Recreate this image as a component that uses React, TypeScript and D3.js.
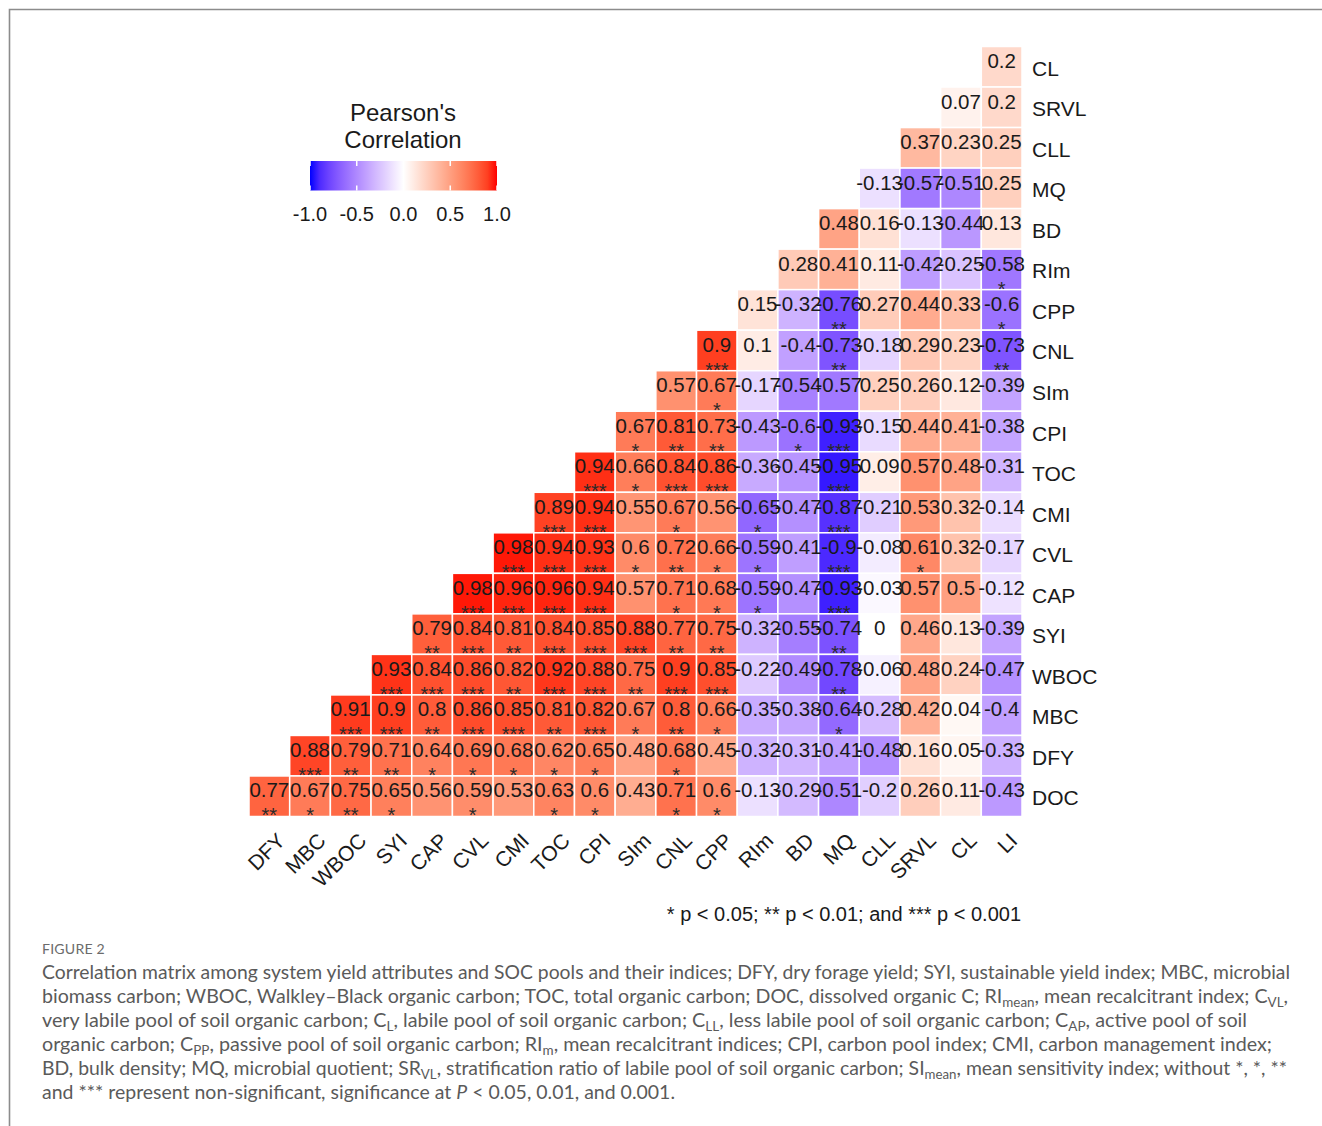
import React from 'react';
import * as d3 from 'd3';

// column order (x axis) and row order (top to bottom)
const columns = ['DFY', 'MBC', 'WBOC', 'SYI', 'CAP', 'CVL', 'CMI', 'TOC', 'CPI', 'SIm', 'CNL', 'CPP', 'RIm', 'BD', 'MQ', 'CLL', 'SRVL', 'CL', 'LI'];
const rows = ['CL', 'SRVL', 'CLL', 'MQ', 'BD', 'RIm', 'CPP', 'CNL', 'SIm', 'CPI', 'TOC', 'CMI', 'CVL', 'CAP', 'SYI', 'WBOC', 'MBC', 'DFY', 'DOC'];

// each row holds the values for its rightmost columns (lower triangle)
const rowValues = [
  [0.2],
  [0.07, 0.2],
  [0.37, 0.23, 0.25],
  [-0.13, -0.57, -0.51, 0.25],
  [0.48, 0.16, -0.13, -0.44, 0.13],
  [0.28, 0.41, 0.11, -0.42, -0.25, -0.58],
  [0.15, -0.32, -0.76, 0.27, 0.44, 0.33, -0.6],
  [0.9, 0.1, -0.4, -0.73, -0.18, 0.29, 0.23, -0.73],
  [0.57, 0.67, -0.17, -0.54, -0.57, 0.25, 0.26, 0.12, -0.39],
  [0.67, 0.81, 0.73, -0.43, -0.6, -0.93, -0.15, 0.44, 0.41, -0.38],
  [0.94, 0.66, 0.84, 0.86, -0.36, -0.45, -0.95, 0.09, 0.57, 0.48, -0.31],
  [0.89, 0.94, 0.55, 0.67, 0.56, -0.65, -0.47, -0.87, -0.21, 0.53, 0.32, -0.14],
  [0.98, 0.94, 0.93, 0.6, 0.72, 0.66, -0.59, -0.41, -0.9, -0.08, 0.61, 0.32, -0.17],
  [0.98, 0.96, 0.96, 0.94, 0.57, 0.71, 0.68, -0.59, -0.47, -0.93, -0.03, 0.57, 0.5, -0.12],
  [0.79, 0.84, 0.81, 0.84, 0.85, 0.88, 0.77, 0.75, -0.32, -0.55, -0.74, 0, 0.46, 0.13, -0.39],
  [0.93, 0.84, 0.86, 0.82, 0.92, 0.88, 0.75, 0.9, 0.85, -0.22, -0.49, -0.78, -0.06, 0.48, 0.24, -0.47],
  [0.91, 0.9, 0.8, 0.86, 0.85, 0.81, 0.82, 0.67, 0.8, 0.66, -0.35, -0.38, -0.64, -0.28, 0.42, 0.04, -0.4],
  [0.88, 0.79, 0.71, 0.64, 0.69, 0.68, 0.62, 0.65, 0.48, 0.68, 0.45, -0.32, -0.31, -0.41, -0.48, 0.16, 0.05, -0.33],
  [0.77, 0.67, 0.75, 0.65, 0.56, 0.59, 0.53, 0.63, 0.6, 0.43, 0.71, 0.6, -0.13, -0.29, -0.51, -0.2, 0.26, 0.11, -0.43],
];

const rowStars = [
  [''],
  ['', ''],
  ['', '', ''],
  ['', '', '', ''],
  ['', '', '', '', ''],
  ['', '', '', '', '', '*'],
  ['', '', '**', '', '', '', '*'],
  ['***', '', '', '**', '', '', '', '**'],
  ['', '*', '', '', '', '', '', '', ''],
  ['*', '**', '**', '', '*', '***', '', '', '', ''],
  ['***', '*', '***', '***', '', '', '***', '', '', '', ''],
  ['***', '***', '', '*', '', '*', '', '***', '', '', '', ''],
  ['***', '***', '***', '*', '**', '*', '*', '', '***', '', '*', '', ''],
  ['***', '***', '***', '***', '', '*', '*', '*', '', '***', '', '', '', ''],
  ['**', '***', '**', '***', '***', '***', '**', '**', '', '', '**', '', '', '', ''],
  ['***', '***', '***', '**', '***', '***', '**', '***', '***', '', '', '**', '', '', '', ''],
  ['***', '***', '**', '***', '***', '**', '***', '*', '**', '*', '', '', '*', '', '', '', ''],
  ['***', '**', '**', '*', '*', '*', '*', '*', '', '*', '', '', '', '', '', '', '', ''],
  ['**', '*', '**', '*', '', '*', '', '*', '*', '', '*', '*', '', '', '', '', '', '', ''],
];

const legendTicks = [-1, -0.5, 0, 0.5, 1];

const captionLines = [
  [['Correlation matrix among system yield attributes and SOC pools and their indices; DFY, dry forage yield; SYI, sustainable yield index; MBC, microbial']],
  [['biomass carbon; WBOC, Walkley\u2013Black organic carbon; TOC, total organic carbon; DOC, dissolved organic C; RI'], ['mean', 'sub'], [', mean recalcitrant index; C'], ['VL', 'sub'], [',']],
  [['very labile pool of soil organic carbon; C'], ['L', 'sub'], [', labile pool of soil organic carbon; C'], ['LL', 'sub'], [', less labile pool of soil organic carbon; C'], ['AP', 'sub'], [', active pool of soil']],
  [['organic carbon; C'], ['PP', 'sub'], [', passive pool of soil organic carbon; RI'], ['m', 'sub'], [', mean recalcitrant indices; CPI, carbon pool index; CMI, carbon management index;']],
  [['BD, bulk density; MQ, microbial quotient; SR'], ['VL', 'sub'], [', stratification ratio of labile pool of soil organic carbon; SI'], ['mean', 'sub'], [', mean sensitivity index; without *, *, **']],
  [['and *** represent non-significant, significance at '], ['P', 'it'], [' < 0.05, 0.01, and 0.001.']],
];
const captionWidths = [1248, 1246, 1205, 1230, 1245, 633];

const W = 1322;
const H = 1126;
const font = 'Arial, "Liberation Sans", sans-serif';

const App = () => {
  const x = d3.scaleBand().domain(columns).range([249, 1022]);
  const y = d3.scaleBand().domain(rows).range([46.5, 816.5]);
  const color = d3.scaleLinear<string>()
    .domain([-1, 0, 1])
    .range(['blue', 'white', 'red'])
    .interpolate(d3.interpolateLab);
  const lx = d3.scaleLinear().domain([-1, 1]).range([310, 497]);

  const cells = [];
  rows.forEach((r, i) => {
    const vals = rowValues[i];
    const start = columns.length - vals.length;
    vals.forEach((v, j) => {
      cells.push({ row: r, col: columns[start + j], v, stars: rowStars[i][j] });
    });
  });

  const bw = x.bandwidth();
  const bh = y.bandwidth();
  const gradStops = d3.range(0, 1.0001, 0.05);

  return (
    <svg width={W} height={H} style={{ position: 'absolute', left: 0, top: 0, background: '#fff' }}>
      <defs>
        <linearGradient id="corrGrad" x1="0" x2="1" y1="0" y2="0">
          {gradStops.map(t => (
            <stop key={t} offset={t} stopColor={color(-1 + 2 * t)} />
          ))}
        </linearGradient>
      </defs>
      <rect width={W} height={H} fill="#fff" />
      {/* frame */}
      <path d={`M9.5,${H} V9.5 H${W}`} fill="none" stroke="#8c8c8c" strokeWidth={1.6} />

      {/* cells */}
      <g>
        {cells.map(d => (
          <rect key={d.row + d.col}
            x={x(d.col)} y={y(d.row)} width={bw} height={bh}
            fill={color(d.v)} stroke="#fff" strokeWidth={1.5} />
        ))}
      </g>
      <g fontFamily={font} fill="#1a1a1a" textAnchor="middle">
        {cells.map(d => (
          <text key={'t' + d.row + d.col} x={x(d.col) + bw / 2} y={y(d.row) + 21.5} fontSize={20.5}>
            {String(d.v)}
          </text>
        ))}
        {cells.filter(d => d.stars).map(d => (
          <text key={'s' + d.row + d.col} x={x(d.col) + bw / 2} y={y(d.row) + 46.5} fontSize={20} fill="#2a2a2a">
            {d.stars}
          </text>
        ))}
      </g>

      {/* row labels */}
      <g fontFamily={font} fontSize={21} fill="#1a1a1a">
        {rows.map(r => (
          <text key={r} x={1032} y={y(r) + bh / 2 + 9}>{r}</text>
        ))}
      </g>
      {/* column labels */}
      <g fontFamily={font} fontSize={21} fill="#1a1a1a" textAnchor="end">
        {columns.map(c => (
          <text key={c} transform={`translate(${x(c) + bw / 2 + 17},842) rotate(-45)`}>{c}</text>
        ))}
      </g>

      {/* legend */}
      <g fontFamily={font} fill="#1a1a1a">
        <text x={403} y={121} fontSize={24} textAnchor="middle">Pearson's</text>
        <text x={403} y={148} fontSize={24} textAnchor="middle">Correlation</text>
        <rect x={lx(-1)} y={161} width={lx(1) - lx(-1)} height={29.5} fill="url(#corrGrad)" />
        {legendTicks.map(t => (
          <g key={t}>
            <line x1={lx(t)} x2={lx(t)} y1={161} y2={166} stroke="#fff" strokeWidth={1.5} />
            <line x1={lx(t)} x2={lx(t)} y1={185.5} y2={190.5} stroke="#fff" strokeWidth={1.5} />
            <text x={lx(t)} y={221} fontSize={20} textAnchor="middle">{t.toFixed(1)}</text>
          </g>
        ))}
      </g>

      <text x={1021} y={921} fontFamily={font} fontSize={20} textAnchor="end" fill="#1a1a1a">
        * p &lt; 0.05; ** p &lt; 0.01; and *** p &lt; 0.001
      </text>

      {/* caption */}
      <text x={42} y={954} fontFamily="Lato, 'Open Sans', sans-serif" fontSize={14} fill="#6b6b6b" letterSpacing={0.2}
        textLength={63} lengthAdjust="spacingAndGlyphs">FIGURE 2</text>
      <g fontFamily="Lato, 'Open Sans', sans-serif" fontSize={19} fill="#5a5a5a">
        {captionLines.map((parts, i) => (
          <text key={i} x={42} y={979 + i * 24} textLength={captionWidths[i]} lengthAdjust="spacingAndGlyphs">
            {parts.map((p, k) => {
              if (p[1] === 'sub') {
                return <tspan key={k} fontSize={13} dy={4}>{p[0]}</tspan>;
              }
              const prevSub = k > 0 && parts[k - 1][1] === 'sub';
              if (p[1] === 'it') {
                return <tspan key={k} fontStyle="italic" dy={prevSub ? -4 : 0}>{p[0]}</tspan>;
              }
              return <tspan key={k} dy={prevSub ? -4 : 0}>{p[0]}</tspan>;
            })}
          </text>
        ))}
      </g>
    </svg>
  );
};

export default App;
